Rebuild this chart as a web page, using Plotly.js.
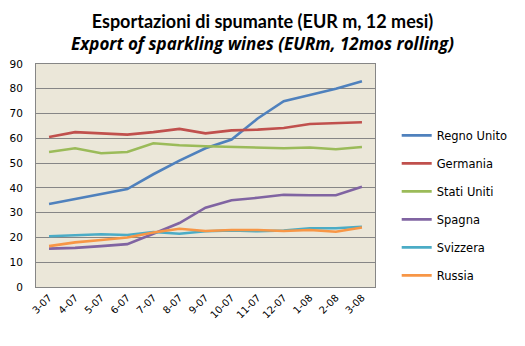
<!DOCTYPE html>
<html><head><meta charset="utf-8">
<script src="https://cdn.plot.ly/plotly-3.0.1.min.js"></script>
<style>body{margin:0;background:#fff}#c{width:525px;height:346px}</style>
</head><body><div id="c"></div>
<script>
const months = ["3-07","4-07","5-07","6-07","7-07","8-07","9-07","10-07","11-07","12-07","1-08","2-08","3-08"];
const regnoUnito = [33.5,35.5,37.5,39.5,45.5,51,56,59.5,68,75,77.5,80,83];
const germania   = [60.5,62.5,62,61.5,62.5,63.8,62,63.2,63.5,64.2,65.8,66.2,66.5];
const statiUniti = [54.5,56,54,54.5,58,57.2,56.8,56.6,56.3,56,56.3,55.6,56.5];
const spagna     = [15.5,15.8,16.5,17.3,21.5,25.8,32,35,36,37.2,37,37,40.5];
const svizzera   = [20.5,21,21.3,21,22.2,21.5,22.5,22.8,22.5,22.8,23.7,23.7,24.3];
const russia     = [16.5,18,19,20,22,23.5,22.6,23,23,22.6,23,22.3,24.0];
const seriesNames = ["Regno Unito","Germania","Stati Uniti","Spagna","Svizzera","Russia"];
const seriesData = [regnoUnito,germania,statiUniti,spagna,svizzera,russia];
const colors = ["#4F81BD","#C0504D","#9BBB59","#8064A2","#4BACC6","#F79646"];

const traces = seriesNames.map((n,i)=>({
  x: months, y: seriesData[i], name: n, legendgroup: 'g'+i, type:'scatter', mode:'lines',
  line:{color:colors[i], width:2.6}
}));
const tf = '"DejaVu Sans", Verdana, sans-serif';
const layout = {
  width:525, height:346,
  margin:{l:36, r:135, t:64, b:59},
  paper_bgcolor:'#fff', plot_bgcolor:'#EBE7D9',
  title:{text:'<b><span style="font-family:Lato;font-size:18px">Esportazioni di spumante (EUR m, 12 mesi)</span></b><br><b><i><span style="font-family:\'Open Sans\';font-size:17px">Export of sparkling wines (EURm, 12mos rolling)</span></i></b>',
    font:{family:'Lato, "Open Sans", sans-serif', size:17, color:'#000'}, x:0.5, xanchor:'center', y:0.918, yanchor:'middle'},
  xaxis:{type:'category', tickangle:-45, tickfont:{family:tf, size:10, color:'#000'},
    showgrid:false, showline:true, linecolor:'#868686', mirror:true, ticks:'', range:[-0.5,12.5], fixedrange:true},
  yaxis:{range:[0,90], dtick:10, tickfont:{family:tf, size:10.5, color:'#000'},
    showgrid:true, gridcolor:'#868686', gridwidth:1, showline:true, linecolor:'#868686', mirror:true, ticks:'', zeroline:false, ticksuffix:'   '},
  legend:{x:1.064, y:0.745, xanchor:'left', yanchor:'top', font:{family:tf, size:11.5, color:'#000'},
    tracegroupgap:9, bgcolor:'rgba(0,0,0,0)'},
  showlegend:true
};
Plotly.newPlot('c', traces, layout, {staticPlot:true});
</script></body></html>
